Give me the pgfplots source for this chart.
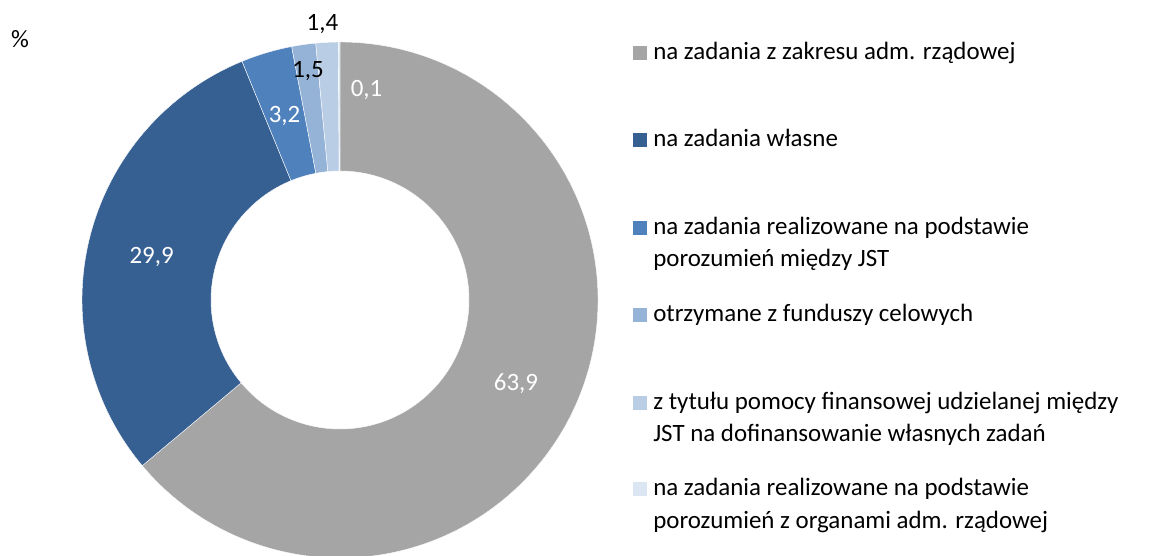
\documentclass[border=0pt]{standalone}
\usepackage{pgfplots}
\pgfplotsset{compat=1.18}
\usepackage{pgfplotstable}
\usepackage{fontspec}
\setmainfont{Carlito}
\definecolor{c1}{HTML}{A5A5A5}
\definecolor{c2}{HTML}{376092}
\definecolor{c3}{HTML}{4F81BD}
\definecolor{c4}{HTML}{95B3D7}
\definecolor{c5}{HTML}{B9CDE5}
\definecolor{c6}{HTML}{DCE6F2}
\pgfplotstableread{
value
63.9
29.9
3.2
1.5
1.4
0.1
}\data
\begin{document}
\begin{tikzpicture}
\fontsize{18.7}{24}\selectfont
\useasboundingbox (0,0) rectangle (869.25pt,417pt);
\begin{axis}[at={(255pt,192pt)}, anchor=center, width=387pt, height=387pt,
  scale only axis, hide axis, xmin=-1, xmax=1, ymin=-1, ymax=1, clip=false]
\def\cum{0}
\pgfplotsforeachungrouped \i in {0,...,5}{%
  \pgfplotstablegetelem{\i}{value}\of\data
  \pgfmathsetmacro\aone{90-3.6*\cum}%
  \pgfmathsetmacro\cum{\cum+\pgfplotsretval}%
  \pgfmathsetmacro\atwo{90-3.6*\cum}%
  \pgfmathtruncatemacro\k{\i+1}%
  \edef\cmd{\noexpand\fill[c\k, draw=white, line width=0.3pt] (axis cs:{cos(\aone)},{sin(\aone)}) arc[start angle=\aone, end angle=\atwo, radius=193.5pt] -- (axis cs:{0.5*cos(\atwo)},{0.5*sin(\atwo)}) arc[start angle=\atwo, end angle=\aone, radius=96.75pt] -- cycle;}%
  \cmd
}
\node[white] at (axis cs:0.682,-0.326) {63,9};
\node[white] at (axis cs:-0.730,0.168) {29,9};
\node[white] at (axis cs:-0.215,0.712) {3,2};
\node[black] at (axis cs:-0.124,0.887) {1,5};
\node[black] at (axis cs:-0.068,1.069) {1,4};
\node[white] at (axis cs:0.103,0.813) {0,1};
\node at (axis cs:-1.240,1.010) {\%};
\end{axis}
\begin{scope}[x=0.75pt,y=-0.75pt,yshift=417pt]
\fill[c1] (633,46) rectangle (647,60);
\fill[c2] (633,133) rectangle (647,147);
\fill[c3] (633,221) rectangle (647,235);
\fill[c4] (633,308) rectangle (647,322);
\fill[c5] (633,396) rectangle (647,410);
\fill[c6] (633,482) rectangle (647,496);
\tikzset{lt/.style={anchor=base west, inner sep=0pt}}
\node[lt] at (653,60) {na zadania z zakresu adm. rządowej};
\node[lt] at (653,146.7) {na zadania własne};
\node[lt] at (653,235) {na zadania realizowane na podstawie};
\node[lt] at (653,266.7) {porozumień między JST};
\node[lt] at (653,321.7) {otrzymane z funduszy celowych};
\node[lt] at (653,410) {z tytułu pomocy finansowej udzielanej między};
\node[lt] at (653,441.7) {JST na dofinansowanie własnych zadań};
\node[lt] at (653,496) {na zadania realizowane na podstawie};
\node[lt] at (653,528.3) {porozumień z organami adm. rządowej};
\end{scope}
\end{tikzpicture}
\end{document}
